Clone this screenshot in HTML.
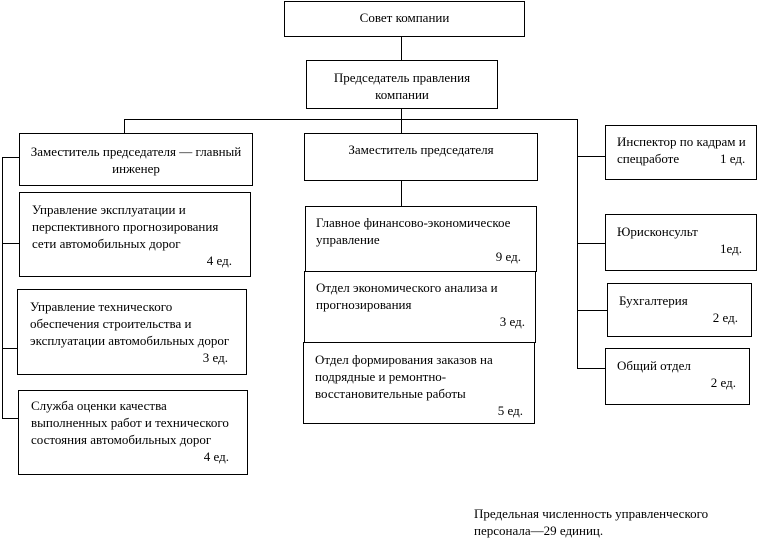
<!DOCTYPE html>
<html><head><meta charset="utf-8"><style>
body{margin:0;width:776px;height:548px;background:#fff;position:relative;overflow:hidden;font-family:"Liberation Serif",serif;font-size:13px;color:#000}
.b{position:absolute;border:1px solid #000;box-sizing:border-box;line-height:17px}
.l{position:absolute;background:#000}
.t{position:absolute;white-space:nowrap;line-height:17px}
.r{text-align:right}
.c{text-align:center}
</style></head><body>
<div class="l" style="left:401px;top:36px;width:1px;height:24px"></div>
<div class="l" style="left:401px;top:108px;width:1px;height:25px"></div>
<div class="l" style="left:124px;top:119px;width:453px;height:1px"></div>
<div class="l" style="left:124px;top:119px;width:1px;height:14px"></div>
<div class="l" style="left:577px;top:119px;width:1px;height:250px"></div>
<div class="l" style="left:401px;top:180px;width:1px;height:26px"></div>
<div class="l" style="left:2px;top:157px;width:1px;height:262px"></div>
<div class="l" style="left:2px;top:157px;width:17px;height:1px"></div>
<div class="l" style="left:2px;top:243px;width:17px;height:1px"></div>
<div class="l" style="left:2px;top:348px;width:15px;height:1px"></div>
<div class="l" style="left:2px;top:418px;width:16px;height:1px"></div>
<div class="l" style="left:577px;top:156px;width:28px;height:1px"></div>
<div class="l" style="left:577px;top:243px;width:28px;height:1px"></div>
<div class="l" style="left:577px;top:310px;width:30px;height:1px"></div>
<div class="l" style="left:577px;top:368px;width:28px;height:1px"></div>

<div class="b c" style="left:284px;top:1px;width:241px;height:36px;padding-top:7px">Совет компании</div>
<div class="b c" style="left:306px;top:60px;width:192px;height:49px;padding-top:8px">Председатель правления<br>компании</div>

<div class="b c" style="left:19px;top:133px;width:234px;height:53px;padding-top:9px">Заместитель председателя — главный<br>инженер</div>
<div class="b" style="left:19px;top:192px;width:232px;height:85px;padding:8px 0 0 12px">Управление эксплуатации и<br>перспективного прогнозирования<br>сети автомобильных дорог<div class="r" style="padding-right:18px">4 ед.</div></div>
<div class="b" style="left:17px;top:289px;width:230px;height:86px;padding:8px 0 0 12px">Управление технического<br>обеспечения строительства и<br>эксплуатации автомобильных дорог<div class="r" style="padding-right:18px">3 ед.</div></div>
<div class="b" style="left:18px;top:390px;width:230px;height:85px;padding:6px 0 0 12px">Служба оценки качества<br>выполненных работ и технического<br>состояния автомобильных дорог<div class="r" style="padding-right:18px">4 ед.</div></div>

<div class="b c" style="left:304px;top:133px;width:234px;height:48px;padding-top:7px">Заместитель председателя</div>
<div class="b" style="left:305px;top:206px;width:232px;height:66px;padding:7px 0 0 10px">Главное финансово-экономическое<br>управление<div class="r" style="padding-right:15px">9 ед.</div></div>
<div class="b" style="left:304px;top:271px;width:232px;height:72px;padding:7px 0 0 11px">Отдел экономического анализа и<br>прогнозирования<div class="r" style="padding-right:10px">3 ед.</div></div>
<div class="b" style="left:303px;top:342px;width:232px;height:82px;padding:8px 0 0 11px">Отдел формирования заказов на<br>подрядные и ремонтно-<br>восстановительные работы<div class="r" style="padding-right:11px">5 ед.</div></div>

<div class="b" style="left:605px;top:125px;width:152px;height:55px;padding:7px 0 0 11px">Инспектор по кадрам и<br>спецработе<span class="t" style="left:114px;top:24px">1 ед.</span></div>
<div class="b" style="left:605px;top:214px;width:152px;height:57px;padding:8px 0 0 11px">Юрисконсульт<div class="r" style="padding-right:14px">1ед.</div></div>
<div class="b" style="left:607px;top:283px;width:145px;height:54px;padding:8px 0 0 11px">Бухгалтерия<div class="r" style="padding-right:13px">2 ед.</div></div>
<div class="b" style="left:605px;top:348px;width:145px;height:57px;padding:8px 0 0 11px">Общий отдел<div class="r" style="padding-right:13px">2 ед.</div></div>

<div class="t" style="left:474px;top:505px">Предельная численность управленческого<br>персонала—29 единиц.</div>
</body></html>
